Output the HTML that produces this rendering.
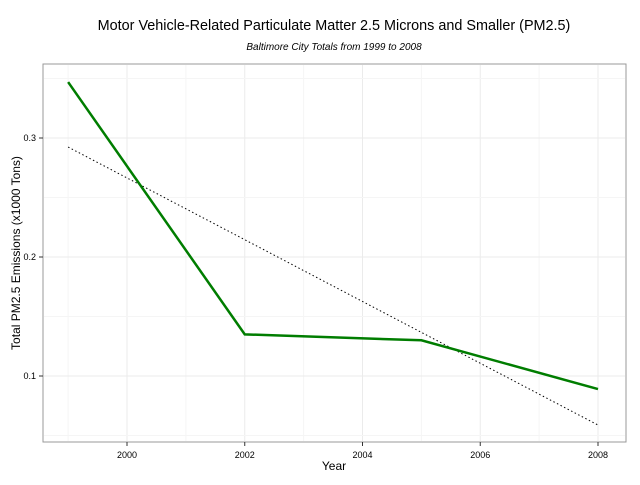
<!DOCTYPE html>
<html><head><meta charset="utf-8"><style>body{margin:0;background:#fff}svg{font-family:"Liberation Sans",sans-serif}</style></head>
<body>
<svg width="640" height="480">
<text x="334" y="30" text-anchor="middle" font-size="14.4">Motor Vehicle-Related Particulate Matter 2.5 Microns and Smaller (PM2.5)</text>
<text x="334" y="50" text-anchor="middle" font-size="10" font-style="italic">Baltimore City Totals from 1999 to 2008</text>
<rect x="43" y="64" width="583" height="378" fill="#fff" stroke="#999"/>
<g id="grid"></g>
<g id="axes"></g>
<g id="marks"></g>
<text x="334" y="470" text-anchor="middle" font-size="12">Year</text>
<text transform="translate(20,253) rotate(-90)" text-anchor="middle" font-size="12">Total PM2.5 Emissions (x1000 Tons)</text>
</svg>
<script>
const years=[1999,2002,2005,2008];
const emissions=[0.347,0.135,0.130,0.089];
const trendYears=[1999,2008];
const trendValues=[0.2924,0.0588];
const xTicks=[2000,2002,2004,2006,2008];
const yTicks=[0.1,0.2,0.3];
const ns="http://www.w3.org/2000/svg";
const X=v=>127+(v-2000)*58.875;
const Y=v=>138-(v-0.3)*1190;
function mk(t,a,p){const e=document.createElementNS(ns,t);for(const k in a)e.setAttribute(k,a[k]);p.appendChild(e);return e;}
const g=document.getElementById('grid'),ax=document.getElementById('axes'),m=document.getElementById('marks');
for(let yr=1999;yr<=2008;yr++){const l=mk('line',{x1:X(yr),x2:X(yr),y1:65,y2:441,stroke:yr%2==0?'#ebebeb':'#f5f5f5'},g);

}
for(let v=0.05;v<=0.36;v+=0.05){const y=Y(v);if(y<65||y>441)continue;const maj=Math.abs(v*10-Math.round(v*10))<1e-6;const l=mk('line',{x1:44,x2:625,y1:y,y2:y,stroke:maj?'#ebebeb':'#f5f5f5'},g);

}
xTicks.forEach(t=>{mk('line',{x1:X(t),x2:X(t),y1:442,y2:446,stroke:'#333'},ax);const e=mk('text',{x:X(t),y:458,'text-anchor':'middle','font-size':'9'},ax);e.textContent=t;

});
yTicks.forEach(t=>{mk('line',{x1:39,x2:43,y1:Y(t),y2:Y(t),stroke:'#333'},ax);const e=mk('text',{x:36,y:Y(t)+3,'text-anchor':'end','font-size':'9'},ax);e.textContent=t.toFixed(1);

});
const tr=mk('polyline',{points:trendYears.map((v,i)=>X(v)+','+Y(trendValues[i])).join(' '),fill:'none',stroke:'#000','stroke-width':1,'stroke-dasharray':'1.5,2.5'},m);


const ln=mk('polyline',{points:years.map((v,i)=>X(v)+','+Y(emissions[i])).join(' '),fill:'none',stroke:'#007d00','stroke-width':2.5},m);


</script>
</body></html>
